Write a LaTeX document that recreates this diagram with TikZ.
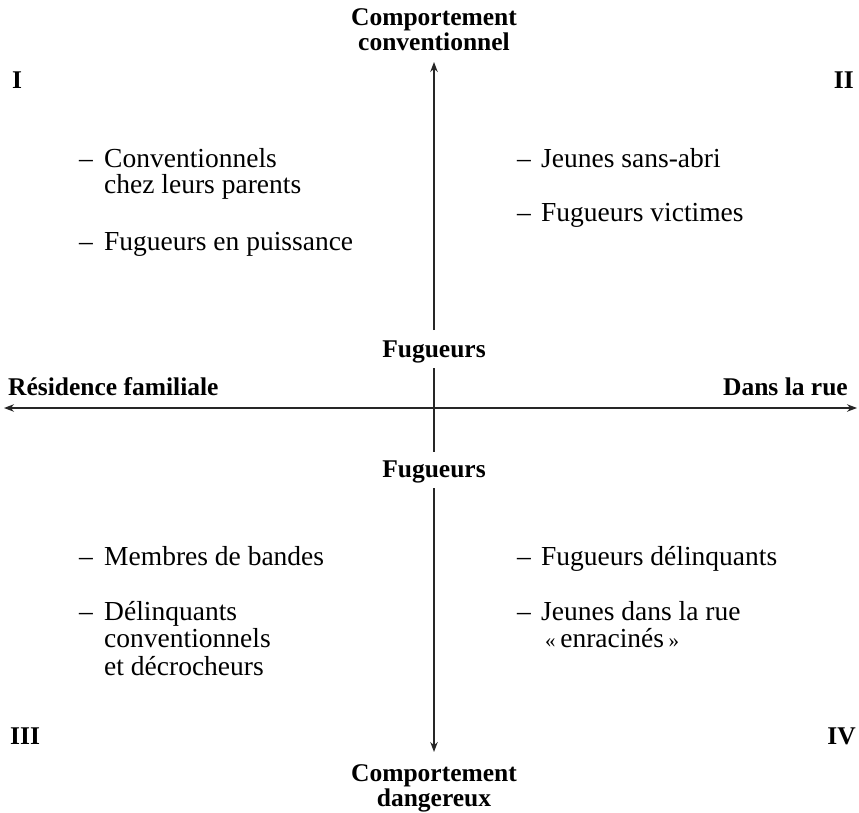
\documentclass[tikz,border=0pt]{standalone}
\usepackage{fontspec}
\setmainfont{Liberation Serif}
\usetikzlibrary{arrows.meta}
\begin{document}
\begin{tikzpicture}[x=1pt,y=-1pt,
  txt/.style={inner sep=0pt,anchor=base west,font=\fontsize{27.5}{27}\selectfont},
  lbl/.style={inner sep=0pt,anchor=base,font=\bfseries\fontsize{25.5}{26}\selectfont},
  axis/.style={line width=1.3pt,draw=black!85},
  tip/.style={-{Stealth[length=10pt,width=7.5pt]}}]
\useasboundingbox (0,0) rectangle (859,813);

% axis end points and gaps around the centre labels
\coordinate (nTip) at (434,62);
\coordinate (sTip) at (434,752);
\coordinate (wTip) at (4,408);
\coordinate (eTip) at (857,408);
\coordinate (vA) at (434,330);
\coordinate (vB) at (434,368);
\coordinate (vC) at (434,452);
\coordinate (vD) at (434,488);

% pole labels
\node[lbl] (north1) at (434,26) {Comportement};
\node[lbl] (north2) at (434,51) {conventionnel};
\node[lbl] (south1) at (434,781) {Comportement};
\node[lbl] (south2) at (434,806) {dangereux};
\node[lbl,anchor=base west] (west) at (8,395) {Résidence familiale};
\node[lbl,anchor=base east] (east) at (848,395) {Dans la rue};
\node[lbl] (fugUp) at (434,357) {Fugueurs};
\node[lbl] (fugDown) at (434,477) {Fugueurs};

% quadrant numbers
\node[lbl,anchor=base west] (q1) at (12,89) {I};
\node[lbl,anchor=base east] (q2) at (854,89) {II};
\node[lbl,anchor=base west] (q3) at (10,744) {III};
\node[lbl,anchor=base east] (q4) at (856,744) {IV};

% axes
\draw[axis,tip] (vA) -- (nTip);
\draw[axis] (vB) -- (vC);
\draw[axis,tip] (vD) -- (sTip);
\draw[axis,{Stealth[length=10pt,width=7.5pt]}-{Stealth[length=10pt,width=7.5pt]}] (wTip) -- (eTip);

% quadrant I
\node[txt] (d11) at (79,168) {–};
\node[txt] (t11) at (104,168) {Conventionnels};
\node[txt] (t11b) at (104,194) {chez leurs parents};
\node[txt] (d12) at (79,250) {–};
\node[txt] (t12) at (104,250) {Fugueurs en puissance};

% quadrant II
\node[txt] (d21) at (517,168) {–};
\node[txt] (t21) at (541,168) {Jeunes sans-abri};
\node[txt] (d22) at (517,222) {–};
\node[txt] (t22) at (541,222) {Fugueurs victimes};

% quadrant III
\node[txt] (d31) at (79,565) {–};
\node[txt] (t31) at (104,565) {Membres de bandes};
\node[txt] (d32) at (79,620) {–};
\node[txt] (t32) at (104,620) {Délinquants};
\node[txt] (t32b) at (104,647) {conventionnels};
\node[txt] (t32c) at (104,675) {et décrocheurs};

% quadrant IV
\node[txt] (d41) at (517,565) {–};
\node[txt] (t41) at (541,565) {Fugueurs délinquants};
\node[txt] (d42) at (517,620) {–};
\node[txt] (t42) at (541,620) {Jeunes dans la rue};
\node[txt] (t42b) at (545,647) {{\fontsize{21}{21}\selectfont«}\,enracinés\,{\fontsize{21}{21}\selectfont»}};
\end{tikzpicture}
\end{document}
